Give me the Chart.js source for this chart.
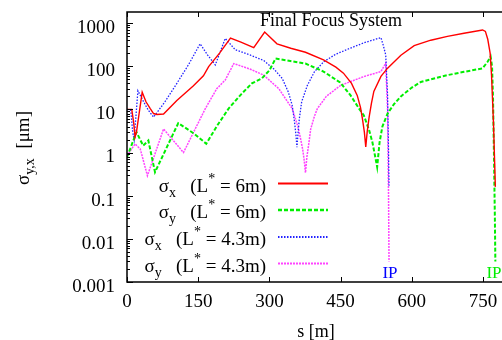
<!DOCTYPE html>
<html>
<head>
<meta charset="utf-8">
<script src="https://cdn.jsdelivr.net/npm/chart.js@4.4.0/dist/chart.umd.min.js"></script>
<style>
html, body { margin:0; padding:0; background:#fff; overflow:hidden; }
#wrap { width:502px; height:340px; }
</style>
</head>
<body>
<div id="wrap"><canvas id="grafico" width="502" height="340"></canvas></div>
<script>
// valores (s em m, sigma em micrometro)
const xTickVals = [0, 150, 300, 450, 600, 750];
const yTickVals = [0.001, 0.01, 0.1, 1, 10, 100, 1000];
const yTickLabels = ['0.001', '0.01', '0.1', '1', '10', '100', '1000'];

// sigma_x, L* = 6m
const sRed = [0, 10, 14, 17, 20, 32, 40, 49, 56, 63, 77, 105, 140, 161, 172, 195, 218, 240, 267, 290, 316, 345, 376, 414, 440, 456, 473, 485, 492, 496, 500, 503, 506, 510, 515, 520, 535, 549, 577, 605, 640, 675, 710, 749, 755, 760, 765, 768, 772, 776];
const sigXL6 = [10, 10, 5, 2.3, 3, 25, 15, 10.4, 8, 7.6, 7.8, 16, 35, 60, 98, 200, 450, 360, 270, 620, 330, 260, 210, 140, 95, 69, 40, 21, 11, 6, 3, 1.35, 3, 6.5, 14, 26, 58, 90, 180, 300, 400, 490, 580, 690, 640, 420, 200, 60, 5, 0.16];

// sigma_y, L* = 6m
const sGreen = [0, 20, 34, 45, 59, 108, 140, 167, 190, 214, 240, 263, 284, 300, 313, 344, 376, 414, 449, 471, 490, 499, 510, 517, 522, 527, 532, 538, 549, 562, 577, 600, 619, 650, 675, 710, 749, 760, 766, 769, 771, 773, 775, 776];
const sigYL6 = [0.78, 2.96, 1.44, 1.89, 0.35, 4.8, 2.8, 1.6, 4.2, 10.4, 22, 40, 52, 80, 150, 132, 115, 75, 42, 21, 10, 7.2, 3.3, 1.73, 0.9, 0.46, 1.7, 4, 8, 13, 20, 32, 43, 53, 62, 74, 89, 128, 167, 100, 20, 1, 0.03, 0.003];

// sigma_x, L* = 4.3m
const sBlue = [0, 8, 12, 15, 23, 35, 45, 56, 80, 105, 130, 154, 170, 186, 207, 228, 260, 288, 310, 327, 340, 348, 353, 356, 358, 360, 363, 368, 380, 395, 415, 440, 471, 500, 535, 540, 545, 549, 551, 552];
const sigXL43 = [10, 9.5, 3, 2, 27, 15, 9.5, 6.6, 15, 40, 110, 330, 180, 107, 440, 240, 180, 135, 85, 52, 25, 12.4, 5, 2.5, 1.32, 2.5, 6, 15, 36, 75, 128, 190, 263, 350, 460, 300, 183, 20, 1, 0.17];

// sigma_y, L* = 4.3m
const sMag = [0, 17, 28, 43, 77, 119, 165, 189, 207, 225, 260, 288, 320, 348, 360, 366, 370, 373, 376, 379, 383, 387, 395, 401, 420, 450, 500, 535, 545, 549, 551, 552];
const sigYL43 = [0.84, 1.58, 1.2, 0.29, 3.5, 1.0, 10.4, 30, 48, 115, 85, 62, 30, 10.4, 4, 2, 1.2, 0.7, 0.34, 0.8, 1.6, 3.5, 7, 10.4, 20, 36, 58, 75, 117, 10, 0.1, 0.003];

const serif = 'Liberation Serif';

function pares(s, v) { return s.map((x, i) => ({x: x, y: v[i]})); }

const series = [
  {nome: 'x', lstar: '6m', cor: '#ff0000', larg: 1.4, traco: [], dados: pares(sRed, sigXL6)},
  {nome: 'y', lstar: '6m', cor: '#00ee00', larg: 2, traco: [4, 2], dados: pares(sGreen, sigYL6)},
  {nome: 'x', lstar: '4.3m', cor: '#2222ff', larg: 1.3, traco: [1.5, 1.5], dados: pares(sBlue, sigXL43)},
  {nome: 'y', lstar: '4.3m', cor: '#ff44ff', larg: 1.5, traco: [2, 1], dados: pares(sMag, sigYL43)}
];

// texto com sub/sobrescrito
function larguraRica(ctx, partes) {
  let w = 0;
  partes.forEach(p => { ctx.font = p[1] + 'px "' + serif + '"'; w += ctx.measureText(p[0]).width; });
  return w;
}
function textoRico(ctx, partes, x, y) {
  partes.forEach(p => {
    ctx.font = p[1] + 'px "' + serif + '"';
    ctx.fillText(p[0], x, y + (p[2] || 0));
    x += ctx.measureText(p[0]).width;
  });
}

const decoracao = {
  id: 'decoracao',
  afterDraw(chart) {
    const ctx = chart.ctx, a = chart.chartArea, sx = chart.scales.x, sy = chart.scales.y;
    ctx.save();
    ctx.strokeStyle = '#000';
    ctx.lineWidth = 1.5;
    ctx.setLineDash([]);
    ctx.beginPath();
    ctx.moveTo(a.right + 2, a.top); ctx.lineTo(a.left, a.top);
    ctx.lineTo(a.left, a.bottom); ctx.lineTo(a.right + 2, a.bottom);
    ctx.stroke();

    // marcas (para dentro)
    ctx.lineWidth = 1;
    ctx.beginPath();
    xTickVals.forEach(v => {
      const px = Math.round(sx.getPixelForValue(v)) + 0.5;
      ctx.moveTo(px, a.bottom); ctx.lineTo(px, a.bottom - 5);
      ctx.moveTo(px, a.top); ctx.lineTo(px, a.top + 5);
    });
    yTickVals.forEach(v => {
      const py = Math.round(sy.getPixelForValue(v)) + 0.5;
      ctx.moveTo(a.left, py); ctx.lineTo(a.left + 6, py);
      for (let k = 2; k <= 9; k++) {
        const m = v * k;
        if (m > sy.max) break;
        const pm = Math.round(sy.getPixelForValue(m)) + 0.5;
        ctx.moveTo(a.left, pm); ctx.lineTo(a.left + 3, pm);
      }
    });
    ctx.stroke();

    ctx.fillStyle = '#000';
    ctx.textBaseline = 'alphabetic';
    ctx.textAlign = 'left';

    // titulo
    ctx.font = '18px "' + serif + '"';
    ctx.textAlign = 'center';
    ctx.fillText('Final Focus System', 331, 26);
    ctx.fillText('s [m]', 316, 337);

    // titulo eixo y
    ctx.textAlign = 'left';
    const ty = [['\u03c3', 19, 0], ['y,x', 14, 5], ['  [\u03bcm]', 19, 0]];
    const wy = larguraRica(ctx, ty);
    ctx.save();
    ctx.translate(29, 148);
    ctx.rotate(-Math.PI / 2);
    textoRico(ctx, ty, -wy / 2, 0);
    ctx.restore();

    // legenda
    const base = [191.5, 218, 245, 271.5];
    series.forEach((s, i) => {
      const partes = [['\u03c3', 19, 0], [s.nome, 14, 5], ['   (L', 19, 0], ['*', 14, -9], [' = ' + s.lstar + ')', 19, 0]];
      const w = larguraRica(ctx, partes);
      ctx.fillStyle = '#000';
      textoRico(ctx, partes, 266 - w, base[i]);
      ctx.strokeStyle = s.cor;
      ctx.lineWidth = s.larg + 0.5;
      ctx.setLineDash(s.traco);
      ctx.beginPath();
      ctx.moveTo(278, base[i] - 8); ctx.lineTo(328, base[i] - 8);
      ctx.stroke();
    });
    ctx.setLineDash([]);

    // rotulos IP
    ctx.font = '17px "' + serif + '"';
    ctx.textAlign = 'center';
    ctx.fillStyle = '#0000ff';
    ctx.fillText('IP', 390, 278);
    ctx.fillStyle = '#00ee00';
    ctx.fillText('IP', 494, 278);
    ctx.restore();
  }
};

const ctx = document.getElementById('grafico').getContext('2d');
const grafico = new Chart(ctx, {
  type: 'line',
  data: {
    datasets: series.map(s => ({
      data: s.dados,
      borderColor: s.cor,
      borderWidth: s.larg,
      borderDash: s.traco,
      pointRadius: 0,
      tension: 0,
      fill: false
    }))
  },
  options: {
    responsive: false,
    animation: false,
    devicePixelRatio: 1,
    layout: {padding: {top: 12, right: 0, left: 0, bottom: 0}},
    scales: {
      x: {
        type: 'linear', min: 0, max: 790,
        grid: {display: false, drawTicks: false},
        border: {display: false},
        ticks: {font: {family: serif, size: 19}, color: '#000', padding: 9, maxRotation: 0, autoSkip: false},
        afterBuildTicks: s => { s.ticks = xTickVals.map(v => ({value: v})); },
        afterFit: s => { s.height = 58; s.paddingLeft = 0; s.paddingRight = 0; }
      },
      y: {
        type: 'logarithmic', min: 0.001, max: 1800,
        grid: {display: false, drawTicks: false},
        border: {display: false},
        ticks: {font: {family: serif, size: 19}, color: '#000', padding: 12, labelOffset: 5, autoSkip: false,
          callback: (v) => { const i = yTickVals.indexOf(v); return i >= 0 ? yTickLabels[i] : ''; }},
        afterBuildTicks: s => { s.ticks = yTickVals.map(v => ({value: v})); },
        afterFit: s => { s.width = 127; s.paddingTop = 0; s.paddingBottom = 0; }
      }
    },
    plugins: {legend: {display: false}, tooltip: {enabled: false}}
  },
  plugins: [decoracao]
});
</script>
</body>
</html>
